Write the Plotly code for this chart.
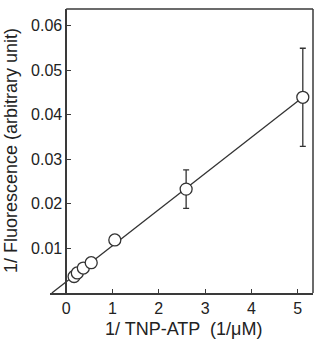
import plotly.graph_objects as go

# data
inv_conc = [0.17, 0.24, 0.37, 0.54, 1.05, 2.59, 5.11]
inv_fluor = [0.0037, 0.0045, 0.0056, 0.0068, 0.0119, 0.0233, 0.0439]
fluor_err = [0.0, 0.0, 0.0, 0.0, 0.001, 0.0043, 0.011]
fit_x = [-0.31, 5.11]
fit_y = [0.0, 0.0439]
x_ticks = [0, 1, 2, 3, 4, 5]
y_ticks = [0.01, 0.02, 0.03, 0.04, 0.05, 0.06]

XMIN, XMAX = -0.35, 5.33
YMIN, YMAX = 0.0, 0.0637
AX = "#3a3a3a"
FONT = "Liberation Sans, Arial, sans-serif"

fig = go.Figure()
fig.add_trace(go.Scatter(x=fit_x, y=fit_y, mode="lines",
                         line=dict(color="#333333", width=1.3), hoverinfo="skip"))
fig.add_trace(go.Scatter(
    x=inv_conc, y=inv_fluor, mode="markers",
    marker=dict(size=12, color="white", line=dict(color="#333333", width=1.3)),
    error_y=dict(type="data", array=fluor_err, visible=True,
                 color="#333333", thickness=1.3, width=3),
    cliponaxis=False))

ypos = (0 - XMIN) / (XMAX - XMIN)
fig.update_layout(
    width=316, height=340, showlegend=False,
    plot_bgcolor="white", paper_bgcolor="white",
    margin=dict(l=50, r=3, t=9, b=47),
    font=dict(family=FONT, color="#222222", size=16),
    xaxis=dict(range=[XMIN, XMAX], tickvals=x_ticks, ticks="inside", ticklen=4,
               tickcolor=AX, tickwidth=1.3, showline=True, linecolor=AX, linewidth=1.5,
               showgrid=False, zeroline=False, tickfont=dict(size=16)),
    yaxis=dict(range=[YMIN, YMAX], tickvals=y_ticks, tickformat=".2f",
               ticks="inside", ticklen=4, tickcolor=AX, tickwidth=1.3,
               showline=True, linecolor=AX, linewidth=1.5, anchor="free",
               position=ypos, showgrid=False, zeroline=False, tickfont=dict(size=16)),
    shapes=[
        dict(type="line", xref="x", yref="paper", x0=0, x1=XMAX, y0=1, y1=1,
             line=dict(color=AX, width=1.5)),
        dict(type="line", xref="paper", yref="paper", x0=1, x1=1, y0=0, y1=1,
             line=dict(color=AX, width=1.5)),
    ],
    annotations=[
        dict(text="1/ TNP-ATP  (1/\u03bcM)", xref="paper", yref="paper",
             x=0.506, y=-0.126, xanchor="center", yanchor="middle", showarrow=False,
             font=dict(size=18)),
        dict(text="1/ Fluorescence (arbitrary unit)", xref="paper", yref="paper",
             x=-0.148, y=0.5, xanchor="center", yanchor="middle", showarrow=False,
             textangle=-90, font=dict(size=18)),
    ],
)
fig.write_html("out.html")
